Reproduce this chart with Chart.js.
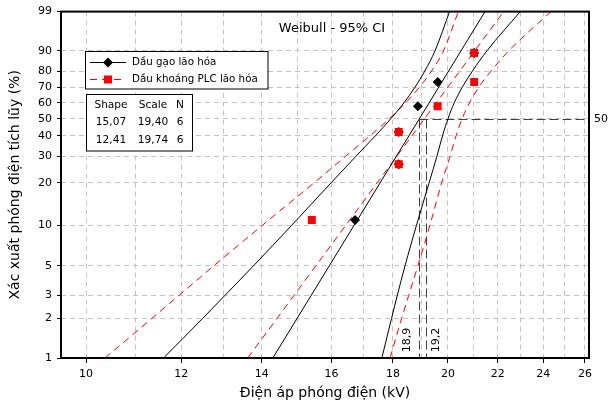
<!DOCTYPE html>
<html><head><meta charset="utf-8">
<script src="https://cdn.jsdelivr.net/npm/chart.js@4.4.1/dist/chart.umd.min.js"></script>
<style>html,body{margin:0;padding:0;background:#fff}#wrap{width:608px;height:406px;position:relative}</style>
</head><body><div id="wrap"><canvas id="c" width="608" height="406"></canvas></div>
<script>
// ---- data ----
const seriesNames = ['Dầu gạo lão hóa', 'Dầu khoáng PLC lão hóa'];
const rankPct = [10.9, 26.6, 42.2, 57.8, 73.4, 89.1];
const riceKV = [16.74, 18.2, 18.2, 18.88, 19.61, 21.03];
const mineralKV = [15.41, 18.2, 18.2, 19.61, 21.03, 21.03];
const fitPct = [1, 99];
const riceFitKV = [14.30, 21.47];
const mineralFitKV = [13.63, 22.25];
const ciPct = [1, 2, 3, 5, 10, 20, 30, 40, 50, 60, 70, 80, 90, 99];
const riceLowerKV = [11.60, 12.50, 13.05, 13.78, 14.83, 15.99, 16.77, 17.40, 17.93, 18.38, 18.77, 19.13, 19.51, 20.06];
const riceUpperKV = [17.62, 17.95, 18.15, 18.42, 18.83, 19.29, 19.58, 19.79, 20.00, 20.24, 20.55, 20.96, 21.55, 22.97];
const mineralLowerKV = [10.37, 11.34, 11.95, 12.77, 14.02, 15.48, 16.44, 17.22, 17.88, 18.44, 18.93, 19.38, 19.83, 20.40];
const mineralUpperKV = [17.90, 18.30, 18.55, 18.88, 19.32, 19.76, 20.08, 20.31, 20.55, 20.84, 21.21, 21.72, 22.47, 24.36];
const yTickPct = [1, 2, 3, 5, 10, 20, 30, 40, 50, 60, 70, 80, 90, 99];
const xTickKV = [10, 11, 12, 13, 14, 15, 16, 17, 18, 19, 20, 21, 22, 23, 24, 25, 26];
const xLabelKV = [10, 12, 14, 16, 18, 20, 22, 24, 26];
const tableHead = ['Shape', 'Scale', 'N'];
const tableRows = [['15,07', '19,40', '6'], ['12,41', '19,74', '6']];
const refPct = 50;
const refKV = [18.93, 19.17];
const refLabels = ['18,9', '19,2'];

// Weibull probability transform
const wb = p => Math.log(-Math.log(1 - p / 100));
const pts = (xs, ps) => xs.map((v, i) => ({x: v, y: wb(ps[i])}));
const FONT = '"DejaVu Sans", Verdana, sans-serif';
const RED = '#ff0000';

const annot = {
  id: 'annot',
  beforeDatasetsDraw(chart) {
    const {ctx, chartArea: ca, scales: {x, y}} = chart;
    ctx.save();
    ctx.strokeStyle = '#404040'; ctx.lineWidth = 1; ctx.setLineDash([9, 4]);
    const y50 = Math.round(y.getPixelForValue(wb(refPct))) + 0.5;
    const xa = Math.round(x.getPixelForValue(refKV[0])) + 0.5;
    const xb = Math.round(x.getPixelForValue(refKV[1])) + 0.5;
    ctx.beginPath();
    ctx.moveTo(xa, y50); ctx.lineTo(ca.right, y50);
    ctx.moveTo(xa, y50); ctx.lineTo(xa, ca.bottom);
    ctx.moveTo(xb, y50); ctx.lineTo(xb, ca.bottom);
    ctx.stroke();
    ctx.restore();
  },
  afterDraw(chart) {
    const {ctx, chartArea: ca, scales: {x, y}} = chart;
    ctx.save();
    // frame
    ctx.strokeStyle = '#000'; ctx.lineWidth = 2;
    ctx.strokeRect(ca.left, ca.top, ca.right - ca.left, ca.bottom - ca.top);
    ctx.fillStyle = '#000';
    // reference labels
    const y50 = y.getPixelForValue(wb(refPct));
    const xa = x.getPixelForValue(refKV[0]);
    const xb = x.getPixelForValue(refKV[1]);
    ctx.font = '11px ' + FONT;
    ctx.textAlign = 'left'; ctx.textBaseline = 'middle';
    ctx.fillText(String(refPct), ca.right + 5, y50);
    ctx.textAlign = 'center';
    [[xa - 12, refLabels[0]], [xb + 10.5, refLabels[1]]].forEach(([px, t]) => {
      ctx.save(); ctx.translate(px, ca.bottom - 18); ctx.rotate(-Math.PI / 2);
      ctx.fillText(t, 0, 0); ctx.restore();
    });
    // title
    ctx.font = '13px ' + FONT;
    ctx.fillText('Weibull - 95% CI', 332, 29);
    // legend
    ctx.fillStyle = '#fff'; ctx.fillRect(85.5, 51.5, 182.5, 37.5);
    ctx.strokeStyle = '#000'; ctx.lineWidth = 1; ctx.strokeRect(85.5, 51.5, 182.5, 37.5);
    ctx.beginPath(); ctx.moveTo(90, 62.5); ctx.lineTo(126, 62.5); ctx.stroke();
    ctx.fillStyle = '#000';
    ctx.beginPath(); ctx.moveTo(108, 57.5); ctx.lineTo(113, 62.5); ctx.lineTo(108, 67.5); ctx.lineTo(103, 62.5); ctx.closePath(); ctx.fill();
    ctx.strokeStyle = RED; ctx.setLineDash([7, 5]);
    ctx.beginPath(); ctx.moveTo(90, 79.5); ctx.lineTo(126, 79.5); ctx.stroke(); ctx.setLineDash([]);
    ctx.fillStyle = RED; ctx.fillRect(104, 75.5, 8, 8);
    ctx.fillStyle = '#000'; ctx.font = '10.3px ' + FONT; ctx.textAlign = 'left';
    ctx.fillText(seriesNames[0], 132, 62.5);
    ctx.fillText(seriesNames[1], 132, 79.5);
    // table
    ctx.fillStyle = '#fff'; ctx.fillRect(86.5, 94.5, 106, 56.5);
    ctx.strokeStyle = '#000'; ctx.strokeRect(86.5, 94.5, 106, 56.5);
    ctx.fillStyle = '#000'; ctx.textAlign = 'center'; ctx.font = '10.6px ' + FONT;
    const cols = [111, 153, 180];
    tableHead.forEach((t, i) => ctx.fillText(t, cols[i], 105));
    tableRows.forEach((r, j) => r.forEach((t, i) => ctx.fillText(t, cols[i], 122.5 + j * 17.5)));
    ctx.restore();
  }
};

const lineDs = (label, xs, ps, color, dash, order) => ({
  label, data: pts(xs, ps), showLine: true, pointRadius: 0, borderColor: color,
  borderWidth: 1, borderDash: dash, cubicInterpolationMode: 'monotone', fill: false, order
});

new Chart(document.getElementById('c'), {
  type: 'scatter',
  data: {
    datasets: [
      {label: seriesNames[1], data: pts(mineralKV, rankPct), pointStyle: 'rect', pointRadius: 5.6,
       backgroundColor: RED, borderColor: RED, borderWidth: 0, showLine: false, order: 0},
      {label: seriesNames[0], data: pts(riceKV, rankPct), pointStyle: 'rectRot', pointRadius: 5,
       backgroundColor: '#000', borderColor: '#000', borderWidth: 0, showLine: false, order: 1},
      lineDs('fit1', riceFitKV, fitPct, '#000', [], 2),
      lineDs('lo1', riceLowerKV, ciPct, '#000', [], 2),
      lineDs('hi1', riceUpperKV, ciPct, '#000', [], 2),
      lineDs('fit2', mineralFitKV, fitPct, RED, [7, 5], 3),
      lineDs('lo2', mineralLowerKV, ciPct, RED, [7, 5], 3),
      lineDs('hi2', mineralUpperKV, ciPct, RED, [7, 5], 3)
    ]
  },
  options: {
    responsive: false, animation: false, devicePixelRatio: 1,
    layout: {padding: {top: 11, right: 19, left: 0, bottom: 0}},
    plugins: {legend: {display: false}, tooltip: {enabled: false}},
    scales: {
      x: {
        type: 'logarithmic', min: 9.532, max: 26.2,
        afterBuildTicks: s => { s.ticks = xTickKV.map(v => ({value: v})); },
        afterFit: s => { s.height = 48; },
        ticks: {callback: v => xLabelKV.includes(v) ? String(v) : '', autoSkip: false, maxRotation: 0,
                color: '#000', font: {family: FONT, size: 11}, padding: 5},
        grid: {color: '#c4c4c4', tickLength: 5,
               tickColor: c => (c.tick && xLabelKV.includes(c.tick.value)) ? '#000' : 'rgba(0,0,0,0)'},
        border: {display: false, dash: [5, 4]},
        title: {display: true, text: 'Điện áp phóng điện (kV)', color: '#000',
                font: {family: FONT, size: 14}, padding: {top: 0, bottom: 4.5}}
      },
      y: {
        type: 'linear', min: wb(1), max: wb(99),
        afterBuildTicks: s => { s.ticks = yTickPct.map(p => ({value: wb(p)})); },
        afterFit: s => { s.width = 61; },
        ticks: {callback: (v, i) => String(yTickPct[i]), autoSkip: false,
                color: '#000', font: {family: FONT, size: 11}, padding: 5},
        grid: {color: '#c4c4c4', tickLength: 4, tickColor: '#000'},
        border: {display: false, dash: [5, 4]},
        title: {display: true, text: 'Xác xuất phóng điện tích lũy (%)', color: '#000',
                font: {family: FONT, size: 14}, padding: {top: 6.5, bottom: 0}}
      }
    }
  },
  plugins: [annot]
});
</script>
</body></html>
